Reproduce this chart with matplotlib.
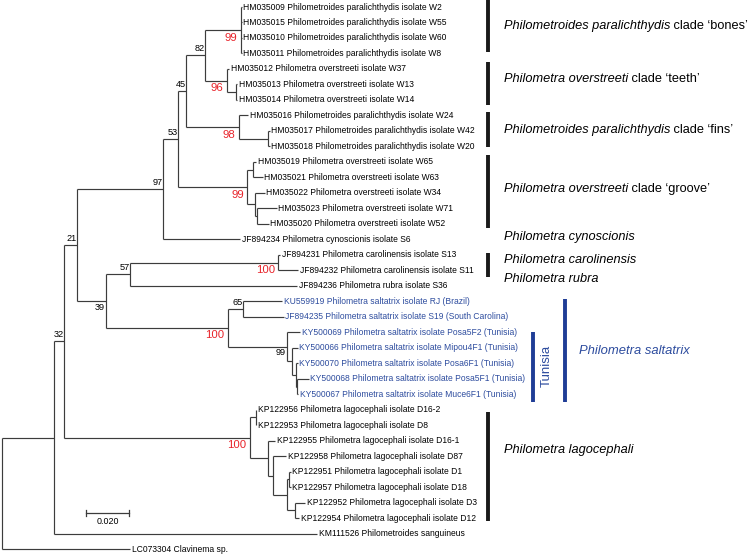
import matplotlib
matplotlib.use('Agg')
import matplotlib.pyplot as plt
from matplotlib.collections import LineCollection

plt.rcParams['font.family'] = ['Liberation Sans', 'DejaVu Sans']

# ---------------- data ----------------
leaf_names = [
    "HM035009 Philometroides paralichthydis isolate W2",
    "HM035015 Philometroides paralichthydis isolate W55",
    "HM035010 Philometroides paralichthydis isolate W60",
    "HM035011 Philometroides paralichthydis isolate W8",
    "HM035012 Philometra overstreeti isolate W37",
    "HM035013 Philometra overstreeti isolate W13",
    "HM035014 Philometra overstreeti isolate W14",
    "HM035016 Philometroides paralichthydis isolate W24",
    "HM035017 Philometroides paralichthydis isolate W42",
    "HM035018 Philometroides paralichthydis isolate W20",
    "HM035019 Philometra overstreeti isolate W65",
    "HM035021 Philometra overstreeti isolate W63",
    "HM035022 Philometra overstreeti isolate W34",
    "HM035023 Philometra overstreeti isolate W71",
    "HM035020 Philometra overstreeti isolate W52",
    "JF894234 Philometra cynoscionis isolate S6",
    "JF894231 Philometra carolinensis isolate S13",
    "JF894232 Philometra carolinensis isolate S11",
    "JF894236 Philometra rubra isolate S36",
    "KU559919 Philometra saltatrix isolate RJ (Brazil)",
    "JF894235 Philometra saltatrix isolate S19 (South Carolina)",
    "KY500069 Philometra saltatrix isolate Posa5F2 (Tunisia)",
    "KY500066 Philometra saltatrix isolate Mipou4F1 (Tunisia)",
    "KY500070 Philometra saltatrix isolate Posa6F1 (Tunisia)",
    "KY500068 Philometra saltatrix isolate Posa5F1 (Tunisia)",
    "KY500067 Philometra saltatrix isolate Muce6F1 (Tunisia)",
    "KP122956 Philometra lagocephali isolate D16-2",
    "KP122953 Philometra lagocephali isolate D8",
    "KP122955 Philometra lagocephali isolate D16-1",
    "KP122958 Philometra lagocephali isolate D87",
    "KP122951 Philometra lagocephali isolate D1",
    "KP122957 Philometra lagocephali isolate D18",
    "KP122952 Philometra lagocephali isolate D3",
    "KP122954 Philometra lagocephali isolate D12",
    "KM111526 Philometroides sanguineus",
    "LC073304 Clavinema sp.",
]
leaf_parent = [10, 10, 10, 10, 11, 12, 12, 13, 14, 14, 16, 16, 17, 18, 18, 5,
               20, 20, 19, 22, 22, 23, 24, 25, 26, 26, 27, 27, 28, 29, 31, 31,
               32, 32, 1, 0]
leaf_branch = [0.00037, 0.00037, 0.00037, 0.00037, 0.00121, 0.00051, 0.00051,
               0.00419, 0.00056, 0.00056, 0.00126, 0.00442, 0.00442, 0.00930,
               0.00558, 0.03581, 0.00088, 0.00916, 0.07758, 0.01791, 0.01870,
               0.00628, 0.00270, 0.00084, 0.00549, 0.00051, 0.00023, 0.00023,
               0.00316, 0.00609, 0.00093, 0.00093, 0.00456, 0.00200, 0.12233,
               0.05953]
# internal nodes (index 0 = root)
node_parent = [-1, 0, 1, 2, 2, 3, 3, 5, 7, 8, 9, 9, 11, 8, 13, 7, 15, 15, 17,
               6, 19, 6, 21, 21, 23, 24, 25, 4, 4, 28, 29, 30, 30]
node_branch = [0.0, 0.02419, 0.00465, 0.00605, 0.08651, 0.04000, 0.01349,
               0.00684, 0.00400, 0.00856, 0.01674, 0.01023, 0.00419, 0.02451,
               0.01363, 0.03237, 0.00265, 0.00358, 0.00070, 0.01116, 0.06898,
               0.05660, 0.00726, 0.02744, 0.00233, 0.00186, 0.00047, 0.00256,
               0.00837, 0.00219, 0.00688, 0.00047, 0.00349]
node_support = [None, None, 32, 21, 100, 97, 39, 53, 45, 82, 99, 96, None, 98,
                None, 99, None, None, None, 57, 100, 100, 65, 99, None, None,
                None, None, None, None, None, None, None]
highlight_nodes = [4, 10, 11, 13, 15, 20, 21]
blue_leaves = [19, 20, 21, 22, 23, 24, 25]
scale_length = 0.020
scale_label = "0.020"

clade_italic = ["Philometroides paralichthydis", "Philometra overstreeti",
                "Philometroides paralichthydis", "Philometra overstreeti",
                "Philometra cynoscionis", "Philometra carolinensis",
                "Philometra rubra", "Philometra lagocephali"]
clade_suffix = [" clade \u2018bones\u2019", " clade \u2018teeth\u2019",
                " clade \u2018fins\u2019", " clade \u2018groove\u2019",
                "", "", "", ""]
saltatrix_label = "Philometra saltatrix"
tunisia_label = "Tunisia"

# ---------------- layout ----------------
W, H = 753, 554
U = 0.02 / 43.0          # tree units per pixel
ROW = 15.49              # pixels per leaf row
Y0 = 7.0

def xpx(p):
    return (p - 2.0) * U

def ypx(p):
    return (p - Y0) / ROW

LINE = '#3c3c3c'
RED = '#e8232a'
BLUE_T = '#2d4c9e'
BLUE_B = '#1f3d96'
LEAF_FS = 6.15
CLADE_FS = 9.2

fig = plt.figure(figsize=(W / 100, H / 100), dpi=100)
ax = fig.add_axes([0, 0, 1, 1])
ax.set_xlim(xpx(0), xpx(W))
ax.set_ylim(ypx(H), ypx(0))
ax.axis('off')

n_int = len(node_parent)
node_x = [0.0] * n_int
for i in range(1, n_int):
    node_x[i] = node_x[node_parent[i]] + node_branch[i]

children_y = {i: [] for i in range(n_int)}
leaf_x = []
for j, p in enumerate(leaf_parent):
    leaf_x.append(node_x[p] + leaf_branch[j])
    children_y[p].append(float(j))
node_y = [0.0] * n_int
for i in range(n_int - 1, -1, -1):
    ys = children_y[i]
    node_y[i] = (min(ys) + max(ys)) / 2.0
    if node_parent[i] >= 0:
        children_y[node_parent[i]].append(node_y[i])

segs = []
for i in range(n_int):
    ys = children_y[i]
    segs.append([(node_x[i], min(ys)), (node_x[i], max(ys))])
    if node_parent[i] >= 0:
        segs.append([(node_x[node_parent[i]], node_y[i]), (node_x[i], node_y[i])])
for j, p in enumerate(leaf_parent):
    segs.append([(node_x[p], j), (leaf_x[j], j)])
ax.add_collection(LineCollection(segs, colors=LINE, linewidths=0.85))

# leaf labels
for j, name in enumerate(leaf_names):
    col = BLUE_T if j in blue_leaves else 'black'
    ax.text(leaf_x[j] + 1.8 * U, j, name, ha='left', va='center',
            fontsize=LEAF_FS, color=col)

# support values
below_black = [6, 23]
for i, s in enumerate(node_support):
    if s is None:
        continue
    if i in highlight_nodes:
        ax.text(node_x[i] - 3.5 * U, node_y[i] + 7.5 / ROW, str(s), ha='right',
                va='center', fontsize=8.2, color=RED)
    elif i in below_black:
        ax.text(node_x[i] - 1.0 * U, node_y[i] + 6.0 / ROW, str(s), ha='right',
                va='center', fontsize=6.6, color='black')
    else:
        ax.text(node_x[i] - 0.3 * U, node_y[i] - 6.5 / ROW, str(s), ha='right',
                va='center', fontsize=6.6, color='black')

# scale bar
sb_x0, sb_y = xpx(86), ypx(513)
ax.plot([sb_x0, sb_x0 + scale_length], [sb_y, sb_y], color=LINE, lw=0.9)
for xx in (sb_x0, sb_x0 + scale_length):
    ax.plot([xx, xx], [sb_y - 3 / ROW, sb_y + 3 / ROW], color=LINE, lw=0.9)
ax.text(sb_x0 + scale_length / 2, ypx(522), scale_label, ha='center',
        va='center', fontsize=6.4)

# clade bars and labels
bar_px = [(0, 52), (62, 105), (112, 147), (155, 228), None, (253, 277), None,
          (412, 521)]
text_y_px = [26, 79, 130, 189, 237, 260, 279, 450]
for k in range(len(clade_italic)):
    if bar_px[k] is not None:
        ax.plot([xpx(487.7)] * 2, [ypx(bar_px[k][0]), ypx(bar_px[k][1])],
                color='#1a1a1a', lw=2.8, solid_capstyle='butt')
    t = ax.text(xpx(504), ypx(text_y_px[k]), clade_italic[k], ha='left',
                va='center', fontsize=CLADE_FS, style='italic')
    if clade_suffix[k]:
        ax.annotate(clade_suffix[k], xy=(1, 0), xycoords=t, ha='left',
                    va='bottom', fontsize=CLADE_FS)

# saltatrix bars
ax.plot([xpx(532.5)] * 2, [ypx(332), ypx(402)], color=BLUE_B, lw=2.8,
        solid_capstyle='butt')
ax.plot([xpx(565)] * 2, [ypx(299), ypx(402)], color=BLUE_B, lw=2.8,
        solid_capstyle='butt')
ax.text(xpx(547), ypx(366), tunisia_label, rotation=90, ha='center',
        va='center', fontsize=9.5, color=BLUE_T)
ax.text(xpx(579), ypx(351), saltatrix_label, ha='left', va='center',
        fontsize=9.4, style='italic', color=BLUE_T)

fig.savefig('out.png', dpi=100)
